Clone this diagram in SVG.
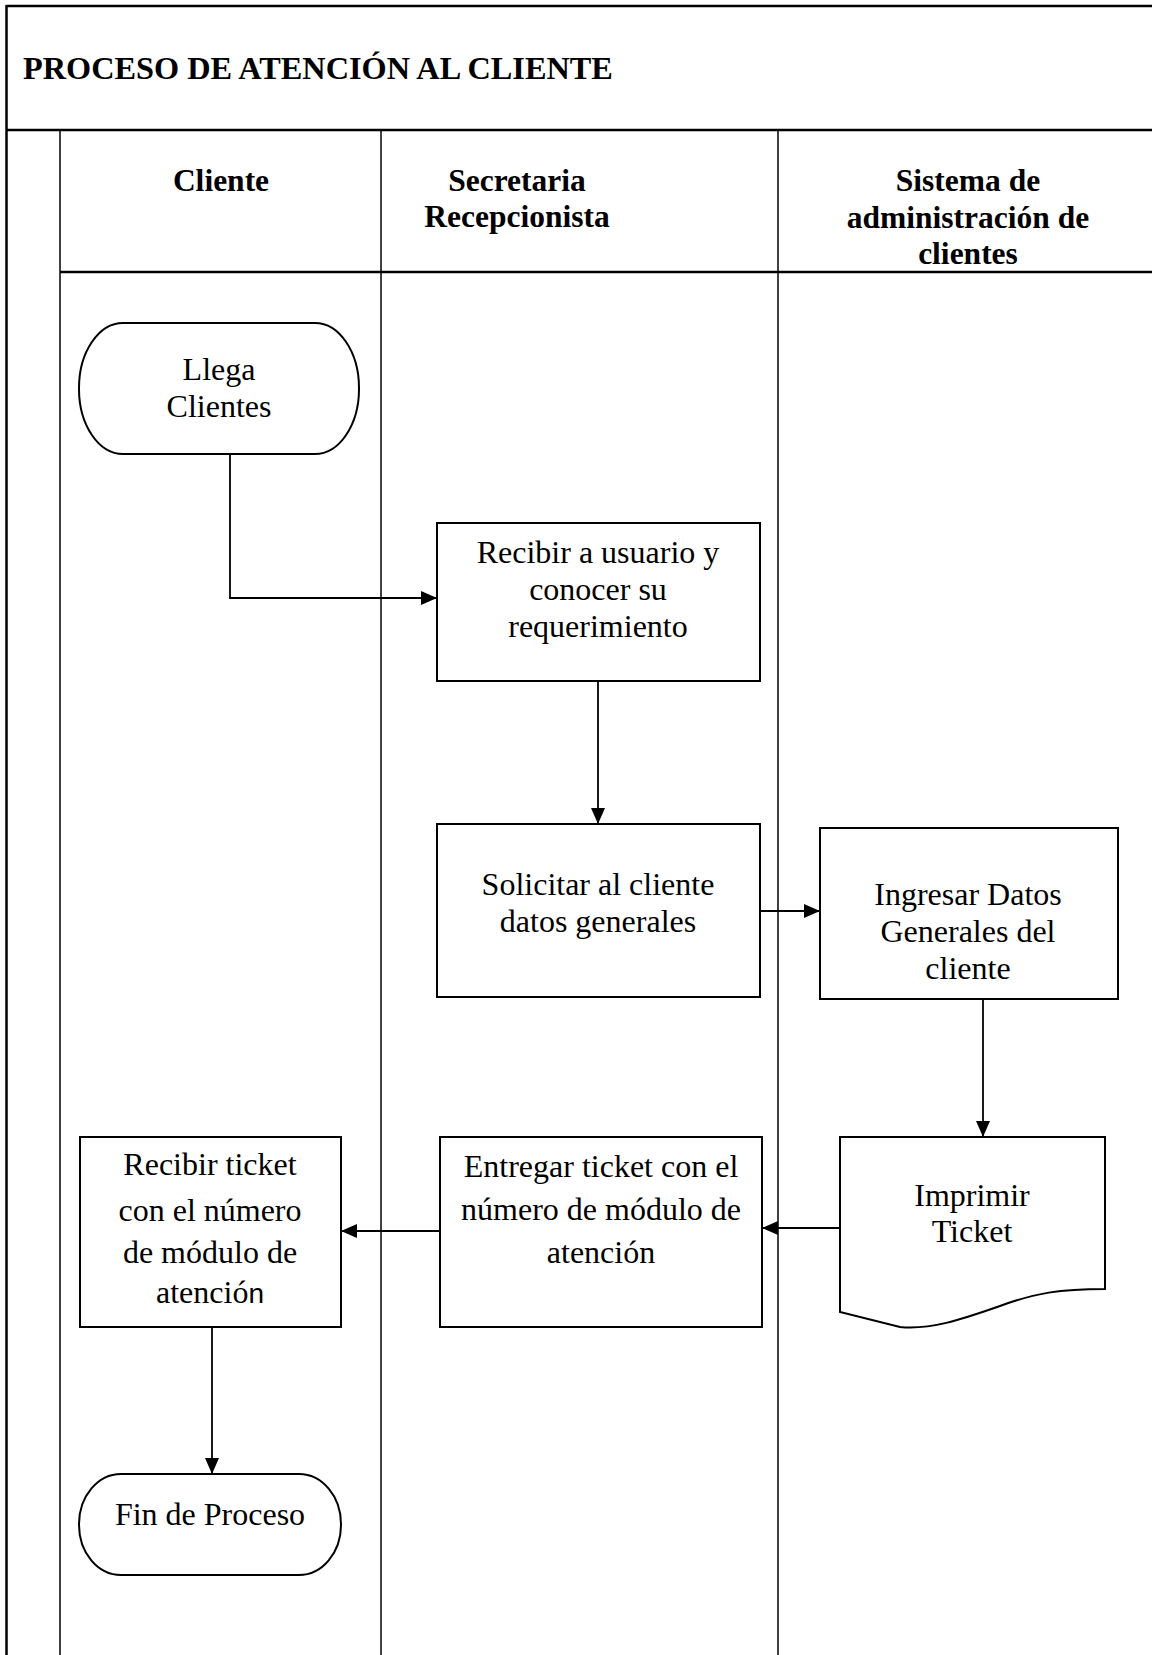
<svg xmlns="http://www.w3.org/2000/svg" width="1152" height="1655" viewBox="0 0 1152 1655">
<style>
.frame{stroke:#000;stroke-width:2.5;fill:none}
.lane{stroke:#000;stroke-width:1.5;fill:none}
.shape{stroke:#000;stroke-width:2;fill:#fff}
.conn{stroke:#000;stroke-width:1.8;fill:none}
.title{font-family:"Liberation Serif","Times New Roman",serif;font-weight:bold;font-size:32.3px;fill:#000}
.hdr{font-family:"Liberation Serif","Times New Roman",serif;font-weight:bold;font-size:31.5px;fill:#000;text-anchor:middle}
.lbl{font-family:"Liberation Serif","Times New Roman",serif;font-size:32px;fill:#000;text-anchor:middle}
.sans{font-family:"Liberation Sans",Arial,sans-serif;font-size:28px}
</style>
<defs>
<marker id="arr" markerUnits="userSpaceOnUse" markerWidth="16" markerHeight="14" refX="16" refY="7" orient="auto">
<path d="M0,0 L16,7 L0,14 Z" fill="#000"/>
</marker>
</defs>
<rect x="0" y="0" width="1152" height="1655" fill="#fff"/>
<g id="frame">
<line class="frame" x1="6.5" y1="6" x2="1152" y2="6"/>
<line class="frame" x1="6.5" y1="5" x2="6.5" y2="1655"/>
<line class="frame" x1="6.5" y1="130" x2="1152" y2="130"/>
<line class="frame" x1="60" y1="272" x2="1152" y2="272"/>
<line class="lane" x1="60" y1="130" x2="60" y2="1655"/>
<line class="lane" x1="381" y1="130" x2="381" y2="1655"/>
<line class="lane" x1="778" y1="130" x2="778" y2="1655"/>
<text class="title" x="23" y="79">PROCESO DE ATENCIÓN AL CLIENTE</text>
</g>
<g id="headers">
<text class="hdr" x="221" y="191">Cliente</text>
<text class="hdr" x="517" y="191">Secretaria</text>
<text class="hdr" x="517" y="227">Recepcionista</text>
<text class="hdr" x="968" y="191">Sistema de</text>
<text class="hdr" x="968" y="228">administración de</text>
<text class="hdr" x="968" y="264">clientes</text>
</g>
<g id="connectors">
<path class="conn" d="M230,454 V598 H437" marker-end="url(#arr)"/>
<path class="conn" d="M598,681 V824" marker-end="url(#arr)"/>
<path class="conn" d="M760,911 H820" marker-end="url(#arr)"/>
<path class="conn" d="M983,999 V1137" marker-end="url(#arr)"/>
<path class="conn" d="M840,1228 H762" marker-end="url(#arr)"/>
<path class="conn" d="M440,1231 H341" marker-end="url(#arr)"/>
<path class="conn" d="M212,1327 V1474" marker-end="url(#arr)"/>
</g>
<g id="llega">
<rect class="shape" x="79" y="323" width="280" height="131" rx="44" ry="65"/>
<text class="lbl" x="219" y="380">Llega</text>
<text class="lbl" x="219" y="417">Clientes</text>
</g>
<g id="recibir-usuario">
<rect class="shape" x="437" y="523" width="323" height="158"/>
<text class="lbl" x="598" y="563">Recibir a usuario y</text>
<text class="lbl" x="598" y="600">conocer su</text>
<text class="lbl" x="598" y="637">requerimiento</text>
</g>
<g id="solicitar">
<rect class="shape" x="437" y="824" width="323" height="173"/>
<text class="lbl" x="598" y="895">Solicitar al cliente</text>
<text class="lbl" x="598" y="932">datos generales</text>
</g>
<g id="ingresar">
<rect class="shape" x="820" y="828" width="298" height="171"/>
<text class="lbl" x="968" y="905">Ingresar Datos</text>
<text class="lbl" x="968" y="942">Generales del</text>
<text class="lbl" x="968" y="979">cliente</text>
</g>
<g id="imprimir">
<path class="shape" d="M840,1137 H1105 V1289 C1060,1289 1035,1293 1000,1306 C960,1320 930,1330 900,1327 L840,1312 Z"/>
<text class="lbl" x="972" y="1206">Imprimir</text>
<text class="lbl" x="972" y="1242">Ticket</text>
</g>
<g id="entregar">
<rect class="shape" x="440" y="1137" width="322" height="190"/>
<text class="lbl" x="601" y="1177">Entregar ticket con el</text>
<text class="lbl" x="601" y="1220">número de módulo de</text>
<text class="lbl" x="601" y="1263">atención</text>
</g>
<g id="recibir-ticket">
<rect class="shape" x="80" y="1137" width="261" height="190"/>
<text class="lbl" x="210" y="1175">Recibir ticket</text>
<text class="lbl" x="210" y="1221">con el número</text>
<text class="lbl" x="210" y="1263">de módulo de</text>
<text class="lbl" x="210" y="1303">atenció<tspan class="sans">n</tspan></text>
</g>
<g id="fin">
<rect class="shape" x="79" y="1474" width="262" height="101" rx="42" ry="50"/>
<text class="lbl" x="210" y="1525">Fin de Proceso</text>
</g>
</svg>
